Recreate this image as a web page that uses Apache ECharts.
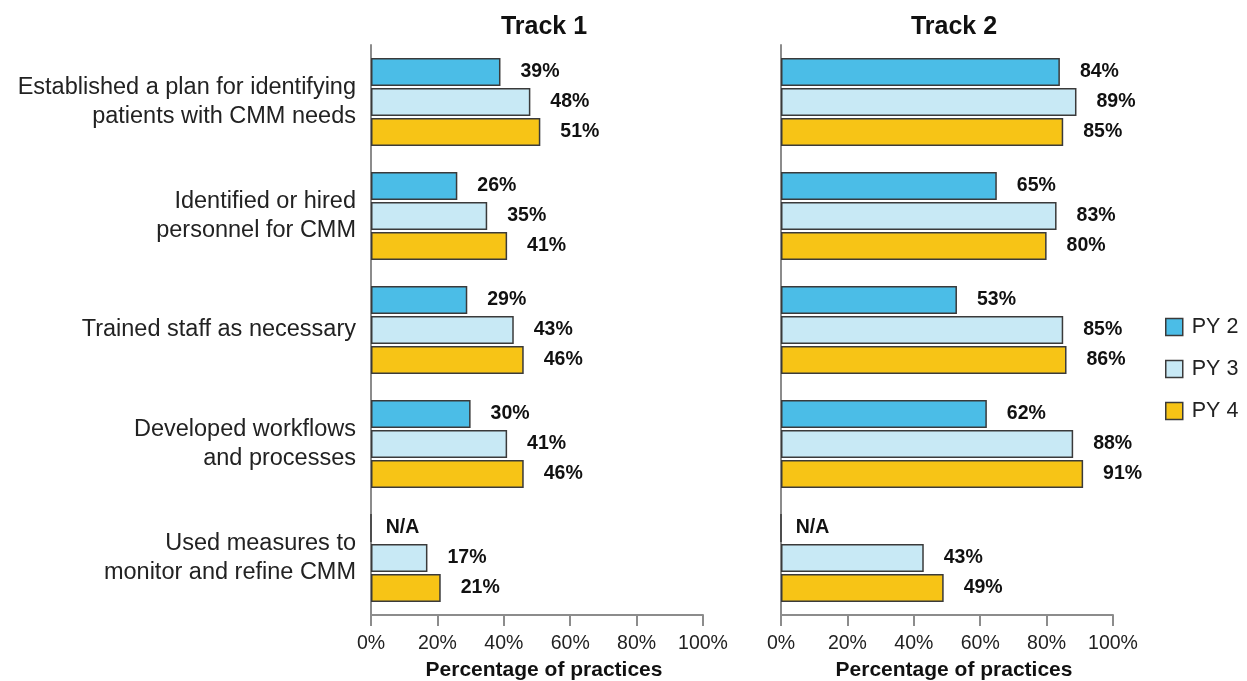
<!DOCTYPE html>
<html><head><meta charset="utf-8">
<script src="https://cdn.jsdelivr.net/npm/echarts@6/dist/echarts.min.js"></script>
<style>html,body{margin:0;padding:0;background:#fff}#c{width:1247px;height:681px}</style>
</head><body><div id="c"></div>
<script>
const categories = [
  'Established a plan for identifying\npatients with CMM needs',
  'Identified or hired\npersonnel for CMM',
  'Trained staff as necessary',
  'Developed workflows\nand processes',
  'Used measures to\nmonitor and refine CMM'
];
const seriesNames = ['PY 2', 'PY 3', 'PY 4'];
const track1PY2 = [39, 26, 29, 30, null];
const track1PY3 = [48, 35, 43, 41, 17];
const track1PY4 = [51, 41, 46, 46, 21];
const track2PY2 = [84, 65, 53, 62, null];
const track2PY3 = [89, 83, 85, 88, 43];
const track2PY4 = [85, 80, 86, 91, 49];
const xTicks = [0, 20, 40, 60, 80, 100];
const colors = ['#4BBDE7', '#C8E9F5', '#F7C416'];

const FONT = '"Liberation Sans", Arial, sans-serif';
const chart = echarts.init(document.getElementById('c'));

function toData(arr) {
  return arr.map(v => v === null
    ? { value: 0, label: { formatter: 'N/A', distance: 14 } }
    : v);
}

function xAxis(idx) {
  return {
    gridIndex: idx, type: 'value', min: xTicks[0], max: xTicks[xTicks.length - 1], interval: xTicks[1] - xTicks[0],
    axisLine: { show: true, lineStyle: { color: '#8c8c8c', width: 2 } },
    axisTick: { show: true, length: 11, lineStyle: { color: '#8c8c8c', width: 2 } },
    splitLine: { show: false },
    axisLabel: { formatter: '{value}%', color: '#222', fontSize: 19.5, fontFamily: FONT, margin: 19 },
    name: 'Percentage of practices', nameLocation: 'middle', nameGap: 45,
    nameTextStyle: { fontWeight: 'bold', fontSize: 21, color: '#111', fontFamily: FONT, padding: [0, 0, 0, 14] }
  };
}
function yAxis(idx, showLabels) {
  return {
    gridIndex: idx, type: 'category', data: categories, inverse: true,
    axisLine: { show: true, lineStyle: { color: '#8c8c8c', width: 2 } },
    axisTick: { show: false },
    axisLabel: { show: showLabels, color: '#222', fontSize: 23.5, fontFamily: FONT, margin: 15, lineHeight: 29, align: 'right', padding: [8, 0, 0, 0] }
  };
}
function barSeries(name, data, i, gi) {
  return {
    name: name, type: 'bar', xAxisIndex: gi, yAxisIndex: gi,
    data: toData(data), barWidth: 28, barGap: '7%',
    itemStyle: { color: colors[i], borderColor: '#3a3a3a', borderWidth: 1.5 },
    label: { show: true, position: 'right', distance: 20, formatter: '{c}%',
      fontWeight: 'bold', fontSize: 19.5, color: '#111', fontFamily: FONT },
    silent: true, animation: false
  };
}

chart.setOption({
  animation: false,
  title: [
    { text: 'Track 1', left: 539, top: 10, textAlign: 'center',
      textStyle: { fontSize: 25, fontWeight: 'bold', color: '#111', fontFamily: FONT } },
    { text: 'Track 2', left: 949, top: 10, textAlign: 'center',
      textStyle: { fontSize: 25, fontWeight: 'bold', color: '#111', fontFamily: FONT } }
  ],
  legend: {
    orient: 'vertical', left: 1160, top: 311, itemWidth: 17, itemHeight: 17, itemGap: 20,
    icon: 'rect',
    data: seriesNames,
    textStyle: { fontSize: 21.5, color: '#222', fontFamily: FONT, padding: [0, 0, 0, 4] },
    itemStyle: { borderColor: '#3a3a3a', borderWidth: 1.5 }
  },
  grid: [
    { left: 371, width: 332, top: 45, height: 570, containLabel: false, outerBoundsMode: 'none' },
    { left: 781, width: 332, top: 45, height: 570, containLabel: false, outerBoundsMode: 'none' }
  ],
  xAxis: [xAxis(0), xAxis(1)],
  yAxis: [yAxis(0, true), yAxis(1, false)],
  series: [
    barSeries('PY 2', track1PY2, 0, 0),
    barSeries('PY 3', track1PY3, 1, 0),
    barSeries('PY 4', track1PY4, 2, 0),
    barSeries('PY 2', track2PY2, 0, 1),
    barSeries('PY 3', track2PY3, 1, 1),
    barSeries('PY 4', track2PY4, 2, 1)
  ]
});
</script></body></html>
